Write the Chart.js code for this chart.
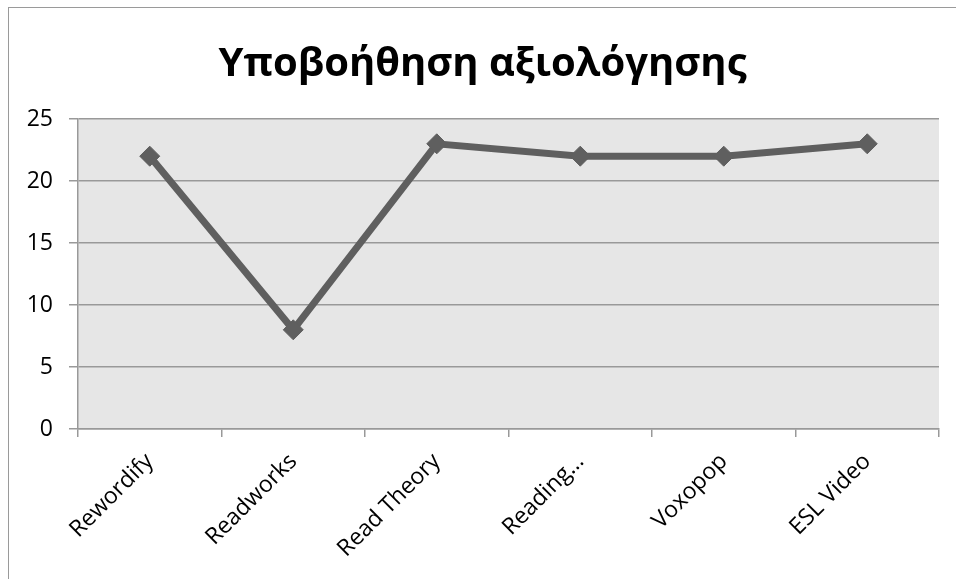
<!DOCTYPE html>
<html>
<head>
<meta charset="utf-8">
<script src="https://cdn.jsdelivr.net/npm/chart.js@4/dist/chart.umd.min.js"></script>
<style>
  body { margin: 0; background: #fff; }
  #wrap { position: relative; width: 956px; height: 579px; overflow: hidden; }
  #frame { position: absolute; left: 8px; top: 7px; width: 1000px; height: 700px; border: 1px solid #9a9a9a; }
  canvas { position: absolute; left: 0; top: 0; }
</style>
</head>
<body>
<div id="wrap">
  <div id="frame"></div>
  <canvas id="chart" width="956" height="579"></canvas>
</div>
<script>
var labels = ["Rewordify", "Readworks", "Read Theory", "Reading…", "Voxopop", "ESL Video"];
var values = [22, 8, 23, 22, 22, 23];
var yTicks = [0, 5, 10, 15, 20, 25];

var fontName = "'Open Sans', 'Noto Sans', sans-serif";

// grey plot background
var plotBg = {
    id: "plotBg",
    beforeDraw: function (chart) {
        var a = chart.chartArea;
        var ctx = chart.ctx;
        ctx.save();
        ctx.fillStyle = "#e6e6e6";
        ctx.fillRect(a.left, a.top, a.right - a.left, a.bottom - a.top);
        ctx.restore();
    }
};

var chart = new Chart("chart", {
    type: "line",
    data: {
        labels: labels,
        datasets: [{
            data: values,
            borderColor: "#5f5f5f",
            backgroundColor: "#5f5f5f",
            borderWidth: 7,
            pointStyle: "rectRot",
            pointRadius: 10,
            pointBorderWidth: 1,
            pointBorderColor: "#5f5f5f",
            pointBackgroundColor: "#5f5f5f",
            tension: 0,
            fill: false
        }]
    },
    options: {
        responsive: false,
        animation: false,
        layout: { padding: { left: 26, right: 17, top: 14, bottom: 0 } },
        plugins: {
            legend: { display: false },
            tooltip: { enabled: false },
            title: {
                display: true,
                text: "Υποβοήθηση αξιολόγησης",
                color: "#000",
                font: { family: fontName, size: 40, weight: "bold" },
                padding: { top: 27, bottom: 30 }
            }
        },
        scales: {
            x: {
                offset: true,
                grid: {
                    offset: true,
                    drawOnChartArea: false,
                    drawTicks: true,
                    tickLength: 8,
                    color: "#999",
                    lineWidth: 1.5
                },
                border: { color: "#999", width: 1.5 },
                ticks: {
                    color: "#000",
                    font: { family: fontName, size: 23 },
                    minRotation: 45,
                    maxRotation: 45,
                    padding: 11
                },
                afterFit: function (scale) { scale.height = 150; }
            },
            y: {
                min: 0,
                max: 25,
                afterBuildTicks: function (scale) {
                    scale.ticks = yTicks.map(function (v) { return { value: v }; });
                },
                grid: {
                    color: "#999",
                    lineWidth: 1.5,
                    tickLength: 9
                },
                border: { color: "#999", width: 1.5 },
                ticks: {
                    color: "#000",
                    font: { family: fontName, size: 23 },
                    padding: 16
                },
                afterFit: function (scale) { scale.width = 52; }
            }
        }
    },
    plugins: [plotBg]
});
</script>
</body>
</html>
